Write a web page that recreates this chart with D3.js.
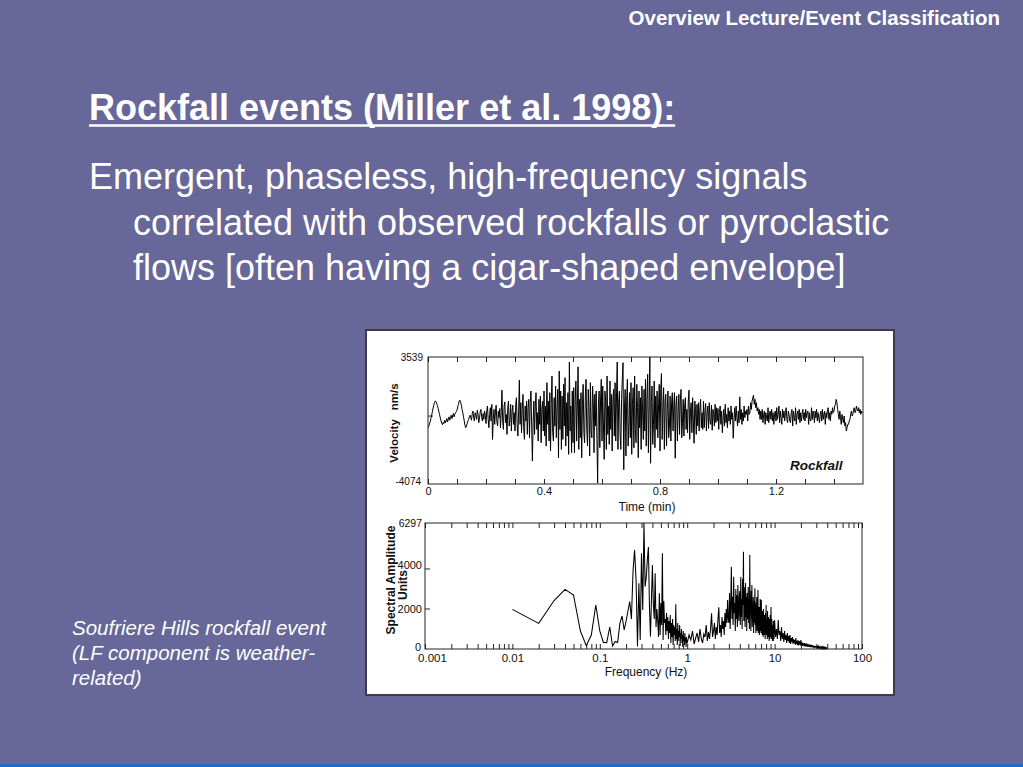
<!DOCTYPE html>
<html lang="en">
<head>
<meta charset="UTF-8">
<title>Rockfall events</title>
<style>
    body {
        margin: 0;
        background-color: #676799;
    }

    svg {
        display: block;
    }

    .frame {
        fill: none;
        stroke: #222;
        stroke-width: 1;
    }

    .trace {
        fill: none;
        stroke: #000;
        stroke-width: 1;
    }

    .spectrum {
        fill: none;
        stroke: #000;
        stroke-width: 1.05;
    }
</style>
<script src="https://cdn.jsdelivr.net/npm/d3@7"></script>
</head>
<body>
<script>
    // ---- slide text ----
    const headerText = "Overview Lecture/Event Classification";
    const titleText = "Rockfall events (Miller et al. 1998):";
    const bodyLines = [
        "Emergent, phaseless, high-frequency signals",
        "correlated with observed rockfalls or pyroclastic",
        "flows [often having a cigar-shaped envelope]"
    ];
    const captionLines = [
        "Soufriere Hills rockfall event",
        "(LF component is weather-",
        "related)"
    ];

    // ---- seismogram: velocity (nm/s), one sample every 0.0025 min ----
    const velocityDt = 0.0025;
    const velocity = [
        -700, -620, -480, -350, -150, 50, 250, 480, 650, 820, 900, 870, 760, 620, 450, 260, 80, -120, -300, -420,
        -520, -380, -450, -250, -400, -300, -150, -350, -200, -50, -250, -100, 50, -150, 0, 150, -50, 100, 200, 250,
        350, 550, 700, 900, 950, 820, 650, 400, 200, -50, -300, -550, -700, -600, -450, -300, -200, -50, 50, -100,
        -250, 150, 300, -100, -300, 200, 50, -200, 350, 100, -400, -150, 250, 400, -50, -300, 150, -200, 300, 50,
        -450, 300, 600, -200, -700, 100, 500, -300, 700, -1400, -200, 400, -500, 250, 650, -350, -600, 300, -100, 450,
        -700, 200, 1550, -300, -800, 600, 850, -400, 100, -1100, 500, 900, -600, -200, 700, -900, 300, 650, -500, 200,
        -900, 700, 1100, -600, -1200, 300, 2150, -500, 800, -1000, 400, 1300, -700, -1400, 600, -300, 900, -1100, 500, 1000,
        -1300, 800, 1500, -600, -2700, -400, 900, -1100, 600, 1400, -800, 200, -1500, 1000, -500, 1200, -1600, 400, 900, -900,
        1500, -1200, 600, -1800, 2000, -500, 900, -1500, 1400, -2100, 700, 2400, -1000, -1500, 1100, -600, 1800, -1300, 500, 1600,
        -2500, 2700, -800, 1500, -2000, 1200, -1400, 1900, -600, 2300, -1800, 800, -1200, 1400, -2300, 3240, -900, 600, -2200, 1500,
        -1600, 1700, -2200, 900, 2100, -1500, 600, 2950, -2000, 1000, -1300, 1400, -2500, 700, 1900, -1000, -1600, 1200, 2200, -800,
        -1800, 1600, 500, -2400, 2000, -900, -1300, 1800, 800, -2200, 1300, -600, 1500, -1400, -4020, 600, 1500, -1900, 900, 2200,
        -1500, 1800, -600, -2600, 1500, 900, -2000, 2400, -1100, 600, -1700, 2100, -800, 1300, -2100, 1000, 1600, -1200, 2000, -1500,
        1200, 3240, -2000, 800, 1500, -1200, -2000, 1000, 2200, 3200, -3220, 600, 1600, -2400, 900, 2200, -1800, -600, 1400, -1300,
        2000, -2300, 700, 1700, -1900, 2400, -800, -1600, 1900, 500, -2500, 1500, -700, 1100, -2000, 1800, 300, -1400, 1600, -900,
        2200, -1800, 1000, 2500, -2200, 600, 3539, -2830, 800, 1800, -1700, -500, 2100, -1900, 1200, -800, 1500, -1300, 700, 1900,
        -2100, 1600, 2550, -1400, 500, 1700, -2000, 900, 1300, -1800, 400, 1500, -1300, -600, 1200, -1500, 800, 1400, -900, 600,
        1400, -2530, 700, 1200, -1500, 300, 1300, -1100, 900, 1600, -1300, -400, 1000, -1200, 600, 1100, -800, 400, -1000, 900,
        1550, -1400, 300, 800, -1000, 1100, -300, -1630, 900, 400, -1100, 700, -600, 800, -900, 500, 1000, -700, 200, -800,
        900, -700, 300, 750, -900, 200, 600, -750, 800, -300, -500, 650, -850, 400, 100, -600, 700, -400, 500, -300,
        450, -800, 200, 600, -500, 300, -1000, -200, 400, -600, 700, -400, 100, -700, 500, -300, 300, -500, 600, -200,
        200, -1330, -300, 500, -300, 600, -100, -600, 300, -400, 1150, -200, 400, -500, 200, -300, 600, -100, 300, 100,
        400, -300, 600, 100, 200, 800, 400, 900, 1100, 1260, 700, 1000, 500, 800, 300, 500, 100, 400, -200, 300,
        -200, 400, -400, 100, 300, -500, 200, -100, -300, 500, -400, 100, 300, -200, 400, -300, 200, -500, 100, 300,
        -300, 500, -200, 100, 600, -400, 300, -100, -500, 400, -100, 300, -300, 200, 500, -200, -400, 300, 100, -300,
        -400, 200, 400, -600, 300, -100, -300, 500, -500, 100, 300, -200, 400, -400, 200, -300, 100, 400, -200, 200,
        -300, 400, -100, 200, 300, -500, 200, -200, -300, 500, -200, 300, 100, -400, 300, -100, 400, -300, 200, -100,
        -400, 100, 300, -300, 400, -200, 100, 300, -500, 200, -100, 400, 500, -200, 200, -300, 300, 100, 500, 200,
        300, 600, 700, 1000, 800, 400, 100, -200, 300, -100, -500, 100, -200, -400, 0, -600, -400, -900, -700, -500,
        -500, -300, -200, 100, 300, 0, 100, 400, 500, 200, 300, 600, 400, 300, 500, 200, 400, 100, 300, 200
    ];
    const timeTicks = [0, 0.1, 0.2, 0.3, 0.4, 0.5, 0.6, 0.7, 0.8, 0.9, 1.0, 1.1, 1.2, 1.3, 1.4];
    const timeLabels = [0, 0.4, 0.8, 1.2];
    const velocityLabels = [3539, -4074];

    // ---- spectrum: amplitude on three frequency grids ----
    const specLowStart = 0.01, specLowStep = 0.01;   // 0.01 .. 0.99 Hz
    const specLowAmp = [
        1980, 1280, 2420, 2980, 2700, 900, 160, 700, 2200, 900,
        330, 320, 1100, 150, 380, 330, 1300, 1650, 950, 1400,
        1900, 2370, 1500, 3900, 4950, 3450, 120, 3280, 450, 4780,
        1950, 6297, 3120, 3600, 4450, 5100, 2100, 620, 2500, 4200,
        2200, 1500, 3780, 1100, 2000, 1400, 600, 2780, 700, 2300,
        1200, 4780, 450, 2400, 1300, 1500, 700, 1800, 900, 1600,
        500, 1400, 800, 1700, 300, 1300, 600, 1500, 200, 1200,
        700, 1100, 400, 2230, 500, 1000, 200, 1300, 400, 900,
        600, 1200, 150, 800, 500, 1000, 300, 700, 100, 900,
        400, 600, 200, 800, 350, 550, 100, 600, 300
    ];
    const specMidStart = 1.0, specMidStep = 0.05;    // 1.00 .. 9.95 Hz
    const specMidAmp = [
        300, 700, 450, 900, 250, 550, 800, 350, 1000, 500, 300, 750, 600, 1200, 400, 850, 500, 1000, 1780, 600,
        900, 1300, 500, 1100, 700, 1500, 2080, 800, 1200, 600, 1600, 1000, 1400, 700, 1800, 1100, 2000, 1300, 2450, 1500,
        1300, 2800, 1000, 2200, 4115, 1500, 2600, 1200, 3615, 1800, 2300, 900, 3000, 1500, 2700, 1100, 3200, 2000, 1400, 2600,
        2900, 1200, 3600, 1600, 2500, 1000, 3500, 2200, 4865, 1400, 3100, 1900, 1100, 3300, 1600, 2600, 900, 2800, 1500, 2200,
        3100, 1300, 2500, 1000, 4700, 1800, 2300, 900, 2900, 1500, 3200, 1100, 2000, 1400, 2600, 800, 2400, 1300, 1900, 3030,
        1200, 2300, 800, 1900, 1400, 2600, 900, 1700, 1200, 2950, 800, 1500, 1000, 2100, 700, 1600, 1200, 2500, 900, 1400,
        800, 2450, 1000, 1600, 700, 1900, 1200, 1500, 600, 2000, 1000, 1400, 700, 1700, 900, 1200, 500, 1800, 800, 1300,
        2200, 700, 1500, 900, 1300, 500, 1900, 800, 1200, 600, 1600, 900, 1100, 400, 1500, 700, 1000, 500, 1700, 800,
        1300, 600, 2100, 700, 1100, 500, 1500, 800, 1000, 400, 1200, 600, 900, 400, 1400, 700, 1000, 500, 800, 1100
    ];
    const specHighStart = 10, specHighStep = 0.25;   // 10 .. 40 Hz
    const specHighAmp = [
        1450, 600, 1000, 500, 1450, 700, 900, 400, 1100, 500, 800, 350, 900, 450, 700, 300, 800, 400, 650, 300,
        700, 250, 550, 350, 600, 250, 500, 300, 450, 200, 550, 250, 400, 200, 450, 180, 380, 220, 400, 180,
        450, 200, 350, 150, 300, 180, 280, 130, 300, 150, 250, 120, 280, 140, 230, 110, 260, 130, 200, 100,
        230, 110, 200, 90, 220, 120, 180, 80, 190, 100, 170, 80, 160, 90, 150, 70, 160, 80, 140, 70,
        150, 70, 130, 60, 140, 70, 120, 60, 110, 50, 120, 60, 100, 50, 110, 40, 90, 50, 80, 40,
        90, 40, 80, 50, 70, 30, 80, 40, 60, 30, 70, 30, 50, 30, 60, 20, 40, 30, 50, 20,
        20
    ];
    const ampLabels = [6297, 4000, 2000, 0];
    const ampTickMarks = [2000, 4000];
    const freqLabels = [0.001, 0.01, 0.1, 1, 10, 100];

    // ---- page ----
    const width = 1023;
    const height = 767;
    const FONT = '"Liberation Sans", Arial, Helvetica, sans-serif';

    const svg = d3.select("body")
                  .append("svg")
                  .attr("width", width)
                  .attr("height", height);

    svg.append("rect")
       .attr("width", width)
       .attr("height", height)
       .attr("fill", "#676799");

    svg.append("rect")
       .attr("y", 764)
       .attr("width", width)
       .attr("height", 3)
       .attr("fill", "#1f6cc6");

    svg.append("text")
       .attr("x", 1000)
       .attr("y", 25)
       .attr("text-anchor", "end")
       .attr("font-family", FONT)
       .attr("font-weight", "bold")
       .attr("font-size", 20.5)
       .attr("fill", "white")
       .text(headerText);

    const title = svg.append("text")
       .attr("x", 89)
       .attr("y", 120)
       .attr("font-family", FONT)
       .attr("font-weight", "bold")
       .attr("font-size", 36)
       .attr("fill", "white")
       .text(titleText);

    const titleWidth = title.node().getComputedTextLength();
    svg.append("line")
       .attr("x1", 89)
       .attr("x2", 89 + titleWidth)
       .attr("y1", 125.5)
       .attr("y2", 125.5)
       .attr("stroke", "white")
       .attr("stroke-width", 2.5);

    svg.selectAll(".body-line")
       .data(bodyLines)
       .enter()
       .append("text")
       .attr("class", "body-line")
       .attr("x", (d, i) => i === 0 ? 89 : 133)
       .attr("y", (d, i) => 189 + i * 45.5)
       .attr("font-family", FONT)
       .attr("font-size", 36)
       .attr("fill", "white")
       .text(d => d);

    svg.selectAll(".caption-line")
       .data(captionLines)
       .enter()
       .append("text")
       .attr("class", "caption-line")
       .attr("x", 72)
       .attr("y", (d, i) => 635 + i * 25)
       .attr("font-family", FONT)
       .attr("font-style", "italic")
       .attr("font-size", 20.5)
       .attr("fill", "white")
       .text(d => d);

    // ---- figure panel ----
    svg.append("rect")
       .attr("x", 366)
       .attr("y", 330)
       .attr("width", 528)
       .attr("height", 365)
       .attr("fill", "white")
       .attr("stroke", "#3b3b4d")
       .attr("stroke-width", 2);

    function styleAxis(g, size) {
        g.select(".domain").remove();
        g.selectAll("line").attr("stroke", "#222");
        g.selectAll("text")
         .attr("font-family", FONT)
         .attr("font-size", size || 11)
         .attr("fill", "#111");
    }

    // ---- top: seismogram ----
    const seisBox = { x0: 428, x1: 863, y0: 357, y1: 484 };

    const xTime = d3.scaleLinear().domain([0, 1.5]).range([seisBox.x0, seisBox.x1]);
    const yVel = d3.scaleLinear().domain([-4074, 3539]).range([seisBox.y1, seisBox.y0]);

    svg.append("g")
       .attr("transform", `translate(0,${seisBox.y0})`)
       .call(d3.axisTop(xTime).tickValues(timeTicks).tickSize(-5).tickFormat(""))
       .call(g => styleAxis(g));

    svg.append("g")
       .attr("transform", `translate(0,${seisBox.y1})`)
       .call(d3.axisBottom(xTime)
               .tickValues(timeTicks)
               .tickSize(-5)
               .tickPadding(3.5)
               .tickFormat(d => timeLabels.includes(d) ? String(d) : ""))
       .call(g => styleAxis(g));

    svg.append("line")
       .attr("x1", seisBox.x0)
       .attr("x2", seisBox.x0 + 5)
       .attr("y1", yVel(0))
       .attr("y2", yVel(0))
       .attr("stroke", "#222");

    svg.selectAll(".vel-label")
       .data(velocityLabels)
       .enter()
       .append("text")
       .attr("class", "vel-label")
       .attr("x", d => d > 0 ? 423 : 421)
       .attr("y", d => d > 0 ? yVel(d) + 4 : yVel(d) + 1)
       .attr("text-anchor", "end")
       .attr("font-family", FONT)
       .attr("font-size", 10)
       .attr("fill", "#111")
       .text(d => d);

    const velLine = d3.line()
                      .x((d, i) => xTime(i * velocityDt))
                      .y(d => yVel(d));

    svg.append("path")
       .datum(velocity)
       .attr("class", "trace")
       .attr("d", velLine);

    svg.append("rect")
       .attr("class", "frame")
       .attr("x", seisBox.x0)
       .attr("y", seisBox.y0)
       .attr("width", seisBox.x1 - seisBox.x0)
       .attr("height", seisBox.y1 - seisBox.y0);

    const velTitle = svg.append("text")
       .attr("transform", "translate(398,423) rotate(-90)")
       .attr("text-anchor", "middle")
       .attr("font-family", FONT)
       .attr("font-weight", "bold")
       .attr("font-size", 11.5)
       .attr("fill", "#111");
    velTitle.append("tspan").text("Velocity");
    velTitle.append("tspan").attr("dx", 9).text("nm/s");

    svg.append("text")
       .attr("x", 790)
       .attr("y", 470)
       .attr("font-family", FONT)
       .attr("font-weight", "bold")
       .attr("font-style", "italic")
       .attr("font-size", 13.5)
       .attr("fill", "#111")
       .text("Rockfall");

    svg.append("text")
       .attr("x", 647)
       .attr("y", 511)
       .attr("text-anchor", "middle")
       .attr("font-family", FONT)
       .attr("font-size", 12)
       .attr("fill", "#111")
       .text("Time (min)");

    // ---- bottom: spectrum ----
    const specBox = { x0: 425, x1: 862, y0: 523, y1: 649 };

    const xFreq = d3.scaleLog().domain([0.001, 100]).range([specBox.x0, specBox.x1]);
    const yAmp = d3.scaleLinear().domain([0, 6297]).range([specBox.y1, specBox.y0]);

    const spectrum = [];
    specLowAmp.forEach((a, i) => spectrum.push({ f: specLowStart + i * specLowStep, a: a }));
    specMidAmp.forEach((a, i) => spectrum.push({ f: specMidStart + i * specMidStep, a: a }));
    specHighAmp.forEach((a, i) => spectrum.push({ f: specHighStart + i * specHighStep, a: a }));

    const freqTicks = xFreq.ticks();

    svg.append("g")
       .attr("transform", `translate(0,${specBox.y0})`)
       .call(d3.axisTop(xFreq).tickValues(freqTicks).tickSize(-5).tickFormat(""))
       .call(g => styleAxis(g));

    svg.append("g")
       .attr("transform", `translate(0,${specBox.y1})`)
       .call(d3.axisBottom(xFreq).tickValues(freqTicks).tickSize(-5).tickFormat(""))
       .call(g => styleAxis(g));

    svg.append("g")
       .attr("transform", `translate(0,${specBox.y1})`)
       .call(d3.axisBottom(xFreq)
               .tickValues(freqLabels)
               .tickSize(0)
               .tickPadding(4.5)
               .tickFormat(d => String(d)))
       .call(g => styleAxis(g, 11.5))
       .call(g => g.selectAll("text")
                   .filter(d => d === freqLabels[0])
                   .attr("dx", 7));

    svg.selectAll(".amp-tick")
       .data(ampTickMarks)
       .enter()
       .append("line")
       .attr("class", "amp-tick")
       .attr("x1", specBox.x0)
       .attr("x2", specBox.x0 + 5)
       .attr("y1", d => yAmp(d))
       .attr("y2", d => yAmp(d))
       .attr("stroke", "#222");

    // label nudges follow the original figure, where 4000 sits a little high
    svg.selectAll(".amp-label")
       .data(ampLabels)
       .enter()
       .append("text")
       .attr("class", "amp-label")
       .attr("x", d => d === 0 ? 421 : 422)
       .attr("y", d => yAmp(d) + (d === 4000 ? 0 : d === 0 ? 2 : 4))
       .attr("text-anchor", "end")
       .attr("font-family", FONT)
       .attr("font-size", d => d === 6297 ? 10.5 : 11)
       .attr("fill", "#111")
       .text(d => d);

    const specLine = d3.line()
                       .x(d => xFreq(d.f))
                       .y(d => yAmp(d.a));

    svg.append("path")
       .datum(spectrum)
       .attr("class", "spectrum")
       .attr("d", specLine);

    svg.append("rect")
       .attr("class", "frame")
       .attr("x", specBox.x0)
       .attr("y", specBox.y0)
       .attr("width", specBox.x1 - specBox.x0)
       .attr("height", specBox.y1 - specBox.y0);

    svg.append("text")
       .attr("transform", "translate(395,580) rotate(-90)")
       .attr("text-anchor", "middle")
       .attr("font-family", FONT)
       .attr("font-weight", "bold")
       .attr("font-size", 12)
       .attr("fill", "#111")
       .text("Spectral Amplitude");

    svg.append("text")
       .attr("transform", "translate(407,585) rotate(-90)")
       .attr("text-anchor", "middle")
       .attr("font-family", FONT)
       .attr("font-weight", "bold")
       .attr("font-size", 12)
       .attr("fill", "#111")
       .text("Units");

    svg.append("text")
       .attr("x", 646)
       .attr("y", 676)
       .attr("text-anchor", "middle")
       .attr("font-family", FONT)
       .attr("font-size", 12)
       .attr("fill", "#111")
       .text("Frequency (Hz)");
</script>
</body>
</html>
